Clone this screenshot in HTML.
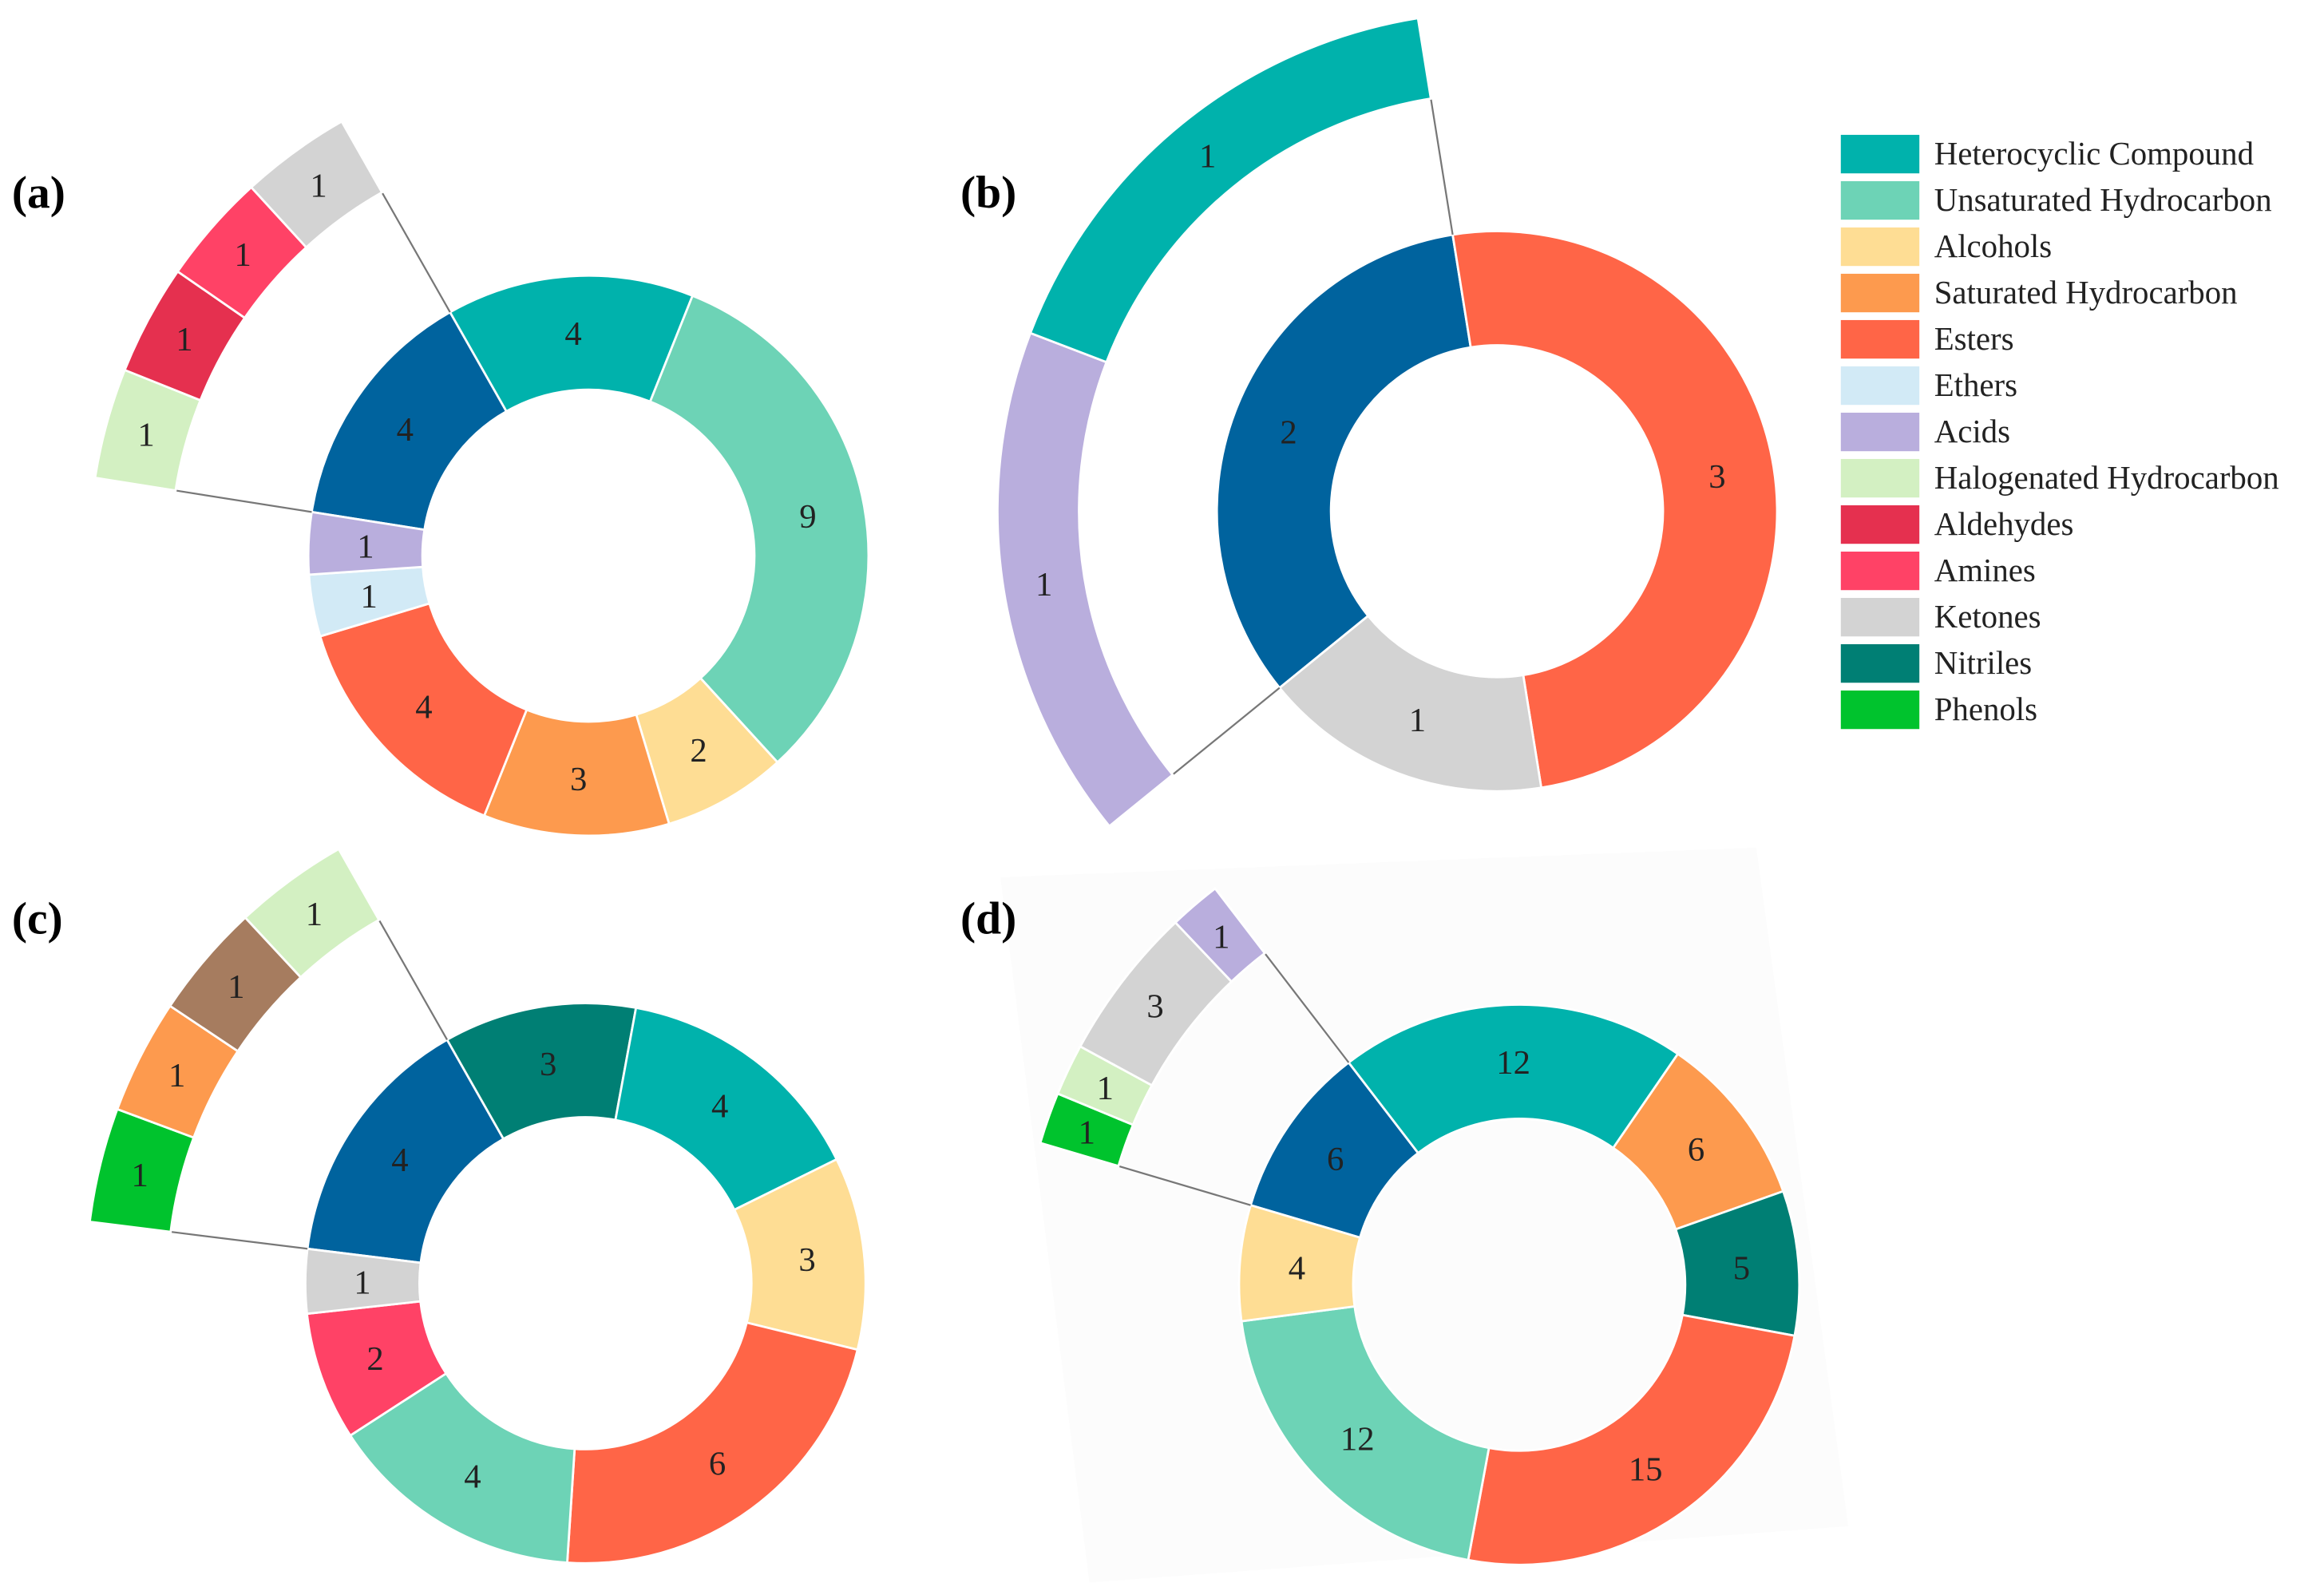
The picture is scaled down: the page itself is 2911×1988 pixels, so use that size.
<!DOCTYPE html>
<html><head><meta charset="utf-8"><style>
html,body{margin:0;padding:0;background:#fff;}
svg{display:block;}
text{font-family:"Liberation Serif",serif;}
</style></head><body>
<svg id="chart" width="2911" height="1988" viewBox="0 0 1568 1071" preserveAspectRatio="none" xmlns="http://www.w3.org/2000/svg">
<polygon points="675,592 1185,572 1247,1030 735,1068" fill="#fcfcfc"/>
<g id="panels"></g>
<g id="legend"></g>
</svg>
<script>
const COLORS={"Heterocyclic Compound":"#00b2ac","Unsaturated Hydrocarbon":"#6dd3b6","Alcohols":"#fedd94","Saturated Hydrocarbon":"#fd9a4e","Esters":"#ff6547","Ethers":"#d2eaf6","Acids":"#b9aedd","Halogenated Hydrocarbon":"#d3f0c2","Aldehydes":"#e5304f","Amines":"#ff4266","Ketones":"#d3d3d3","Nitriles":"#007f74","Phenols":"#00c32d","Other":"#00639e","Unknown":"#a67c5f"};
const legendNames=["Heterocyclic Compound","Unsaturated Hydrocarbon","Alcohols","Saturated Hydrocarbon","Esters","Ethers","Acids","Halogenated Hydrocarbon","Aldehydes","Amines","Ketones","Nitriles","Phenols"];

// panel (a)
const aCats=["Other","Heterocyclic Compound","Unsaturated Hydrocarbon","Alcohols","Saturated Hydrocarbon","Esters","Ethers","Acids"];
const aVals=[4,4,9,2,3,4,1,1];
const aSubCats=["Halogenated Hydrocarbon","Aldehydes","Amines","Ketones"];
const aSubVals=[1,1,1,1];
// panel (b)
const bCats=["Other","Esters","Ketones"];
const bVals=[2,3,1];
const bSubCats=["Acids","Heterocyclic Compound"];
const bSubVals=[1,1];
// panel (c)
const cCats=["Other","Nitriles","Heterocyclic Compound","Alcohols","Esters","Unsaturated Hydrocarbon","Amines","Ketones"];
const cVals=[4,3,4,3,6,4,2,1];
const cSubCats=["Phenols","Saturated Hydrocarbon","Unknown","Halogenated Hydrocarbon"];
const cSubVals=[1,1,1,1];
// panel (d)
const dCats=["Other","Heterocyclic Compound","Saturated Hydrocarbon","Nitriles","Esters","Unsaturated Hydrocarbon","Alcohols"];
const dVals=[6,12,6,5,15,12,4];
const dSubCats=["Phenols","Halogenated Hydrocarbon","Ketones","Acids"];
const dSubVals=[1,1,3,1];

const panels=[
 {id:"a",cx:397,cy:375,cats:aCats,vals:aVals,sub:aSubCats,subv:aSubVals,lx:8,ly:140},
 {id:"b",cx:1010,cy:345,cats:bCats,vals:bVals,sub:bSubCats,subv:bSubVals,lx:648,ly:140},
 {id:"c",cx:395,cy:866,cats:cCats,vals:cVals,sub:cSubCats,subv:cSubVals,lx:8,ly:630},
 {id:"d",cx:1025,cy:867,cats:dCats,vals:dVals,sub:dSubCats,subv:dSubVals,lx:648,ly:630}
];
const NS="http://www.w3.org/2000/svg";
const RO=189,RI=112,SRI=282,SRO=337;
function pt(cx,cy,r,deg){const a=deg*Math.PI/180;return [cx+r*Math.sin(a),cy-r*Math.cos(a)];}
function arc(cx,cy,ri,ro,a0,a1){
 const p1=pt(cx,cy,ro,a0),p2=pt(cx,cy,ro,a1),p3=pt(cx,cy,ri,a1),p4=pt(cx,cy,ri,a0);
 const lg=(a1-a0)>180?1:0;
 return `M${p1[0]},${p1[1]}A${ro},${ro} 0 ${lg} 1 ${p2[0]},${p2[1]}L${p3[0]},${p3[1]}A${ri},${ri} 0 ${lg} 0 ${p4[0]},${p4[1]}Z`;
}
function slug(s){return s.toLowerCase().replace(/[^a-z]+/g,'-');}
const root=document.getElementById('panels');
panels.forEach(p=>{
 const g=document.createElementNS(NS,'g');
 
 
 root.appendChild(g);
 const total=p.vals.reduce((s,v)=>s+v,0);
 const per=360/total;
 const otherSpan=p.vals[0]*per;
 const startTop={a:-29.6,b:-129.1,c:-29.6,d:-37.5}[p.id];
 let a0;
 if(p.id==="b"){a0=230.9-360;} else {a0=startTop-otherSpan;}
 const otherStart=a0, otherEnd=a0+otherSpan;
 p.vals.forEach((v,i)=>{
  const a1=a0+v*per;
  const path=document.createElementNS(NS,'path');
  path.setAttribute('d',arc(p.cx,p.cy,RI,RO,a0,a1));
  path.setAttribute('fill',COLORS[p.cats[i]]);
  path.setAttribute('stroke','#fff');path.setAttribute('stroke-width','1.5');
  
  
  g.appendChild(path);
  const m=pt(p.cx,p.cy,(RI+RO)/2,(a0+a1)/2);
  const t=document.createElementNS(NS,'text');
  t.setAttribute('x',m[0]);t.setAttribute('y',m[1]+8);
  t.setAttribute('text-anchor','middle');t.setAttribute('font-size','23');t.setAttribute('fill','#222');
  t.textContent=v;
  
  
  g.appendChild(t);
  a0=a1;
 });
 [otherStart,otherEnd].forEach((ang,k)=>{
  const q1=pt(p.cx,p.cy,RO,ang),q2=pt(p.cx,p.cy,SRI,ang);
  const l=document.createElementNS(NS,'line');
  l.setAttribute('x1',q1[0]);l.setAttribute('y1',q1[1]);l.setAttribute('x2',q2[0]);l.setAttribute('y2',q2[1]);
  l.setAttribute('stroke','#777');l.setAttribute('stroke-width','1.2');
  
  
  g.appendChild(l);
 });
 const subTotal=p.subv.reduce((s,v)=>s+v,0);
 const sper=otherSpan/subTotal;
 let s0=otherStart;
 p.subv.forEach((v,i)=>{
  const s1=s0+v*sper;
  const path=document.createElementNS(NS,'path');
  path.setAttribute('d',arc(p.cx,p.cy,SRI,SRO,s0,s1));
  path.setAttribute('fill',COLORS[p.sub[i]]);
  path.setAttribute('stroke','#fff');path.setAttribute('stroke-width','1.5');
  
  
  g.appendChild(path);
  const m=pt(p.cx,p.cy,(SRI+SRO)/2,(s0+s1)/2);
  const t=document.createElementNS(NS,'text');
  t.setAttribute('x',m[0]);t.setAttribute('y',m[1]+8);
  t.setAttribute('text-anchor','middle');t.setAttribute('font-size','23');t.setAttribute('fill','#222');
  t.textContent=v;
  
  
  g.appendChild(t);
  s0=s1;
 });
 const lab=document.createElementNS(NS,'text');
 lab.setAttribute('x',p.lx);lab.setAttribute('y',p.ly);
 lab.setAttribute('font-size','31');lab.setAttribute('font-weight','bold');lab.setAttribute('fill','#000');
 lab.textContent='('+p.id+')';
 
 
 g.appendChild(lab);
});
const lg=document.getElementById('legend');
legendNames.forEach((n,i)=>{
 const y=104+i*31.25;
 const r=document.createElementNS(NS,'rect');
 r.setAttribute('x',1242);r.setAttribute('y',y-13);r.setAttribute('width',53);r.setAttribute('height',26);
 r.setAttribute('fill',COLORS[n]);
 
 
 lg.appendChild(r);
 const t=document.createElementNS(NS,'text');
 t.setAttribute('x',1305);t.setAttribute('y',y+7);t.setAttribute('font-size','22');t.setAttribute('fill','#222');
 t.textContent=n;
 
 
 lg.appendChild(t);
});
</script>
</body></html>
